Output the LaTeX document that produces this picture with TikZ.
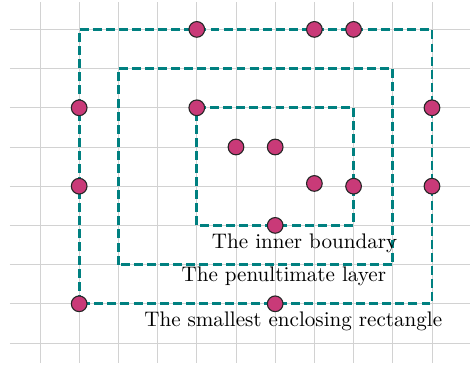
\documentclass[tikz,border=0pt]{standalone}
\usepackage{xcolor}
\usepackage{tikz}
\usetikzlibrary{positioning, arrows.meta}

\definecolor{layerteal}{HTML}{008080}
\definecolor{dotpink}{HTML}{C93A78}

\begin{document}
\begin{tikzpicture}[
            gridline/.style={
                    draw=gray!35,
                    line width=0.5pt
                },
            layer/.style={
                    draw=layerteal,
                    line width=2pt,
                    dash pattern=on 6.5pt off 3pt
                },
            dot/.style={
                    circle,
                    draw=black!85,
                    fill=dotpink,
                    line width=0.8pt,
                    inner sep=0pt,
                    minimum size=0.4cm
                },
            caption/.style={
                    anchor=base,
                    inner sep=0pt,
                    font=\normalsize,
                    scale=1.53,
                    transform shape
                }
        ]

        \useasboundingbox (-1.02,-0.54) rectangle (10.97,8.75);

        \draw[gridline] (-0.77,-0.5) grid (10.97,8.7);


        \coordinate (outerSW) at (1,1);
        \coordinate (outerNE) at (10,8);
        \coordinate (penSW) at (2,2);
        \coordinate (penNE) at (9,7);
        \coordinate (innerSW) at (4,3);
        \coordinate (innerNE) at (8,6);

        \draw[layer] (outerSW) rectangle (outerNE);
        \draw[layer] (penSW) rectangle (penNE);
        \draw[layer] (innerSW) rectangle (innerNE);


        \node[dot] (top1) at (4,8) {};
        \node[dot] (top2) at (7,8) {};
        \node[dot] (top3) at (8,8) {};

        \node[dot] (left1) at (1,6) {};
        \node[dot] (left2) at (1,4) {};
        \node[dot] (left3) at (1,1) {};

        \node[dot] (right1) at (10,6) {};
        \node[dot] (right2) at (10,4) {};

        \node[dot] (inner1) at (4,6) {};
        \node[dot] (inner2) at (5,5) {};
        \node[dot] (inner3) at (6,5) {};
        \node[dot] (inner4) at (7,4.07) {};
        \node[dot] (inner5) at (8,4) {};
        \node[dot] (inner6) at (6,3) {};

        \node[dot] (bottom1) at (6,1) {};


        \node[caption] (innerlabel) at (6.75,2.42)
        {The inner boundary};

        \node[caption] (penlabel) at (6.22,1.58)
        {The penultimate layer};

        \node[caption] (outerlabel) at (6.46,0.41)
        {The smallest enclosing rectangle};


    \end{tikzpicture}
\end{document}
